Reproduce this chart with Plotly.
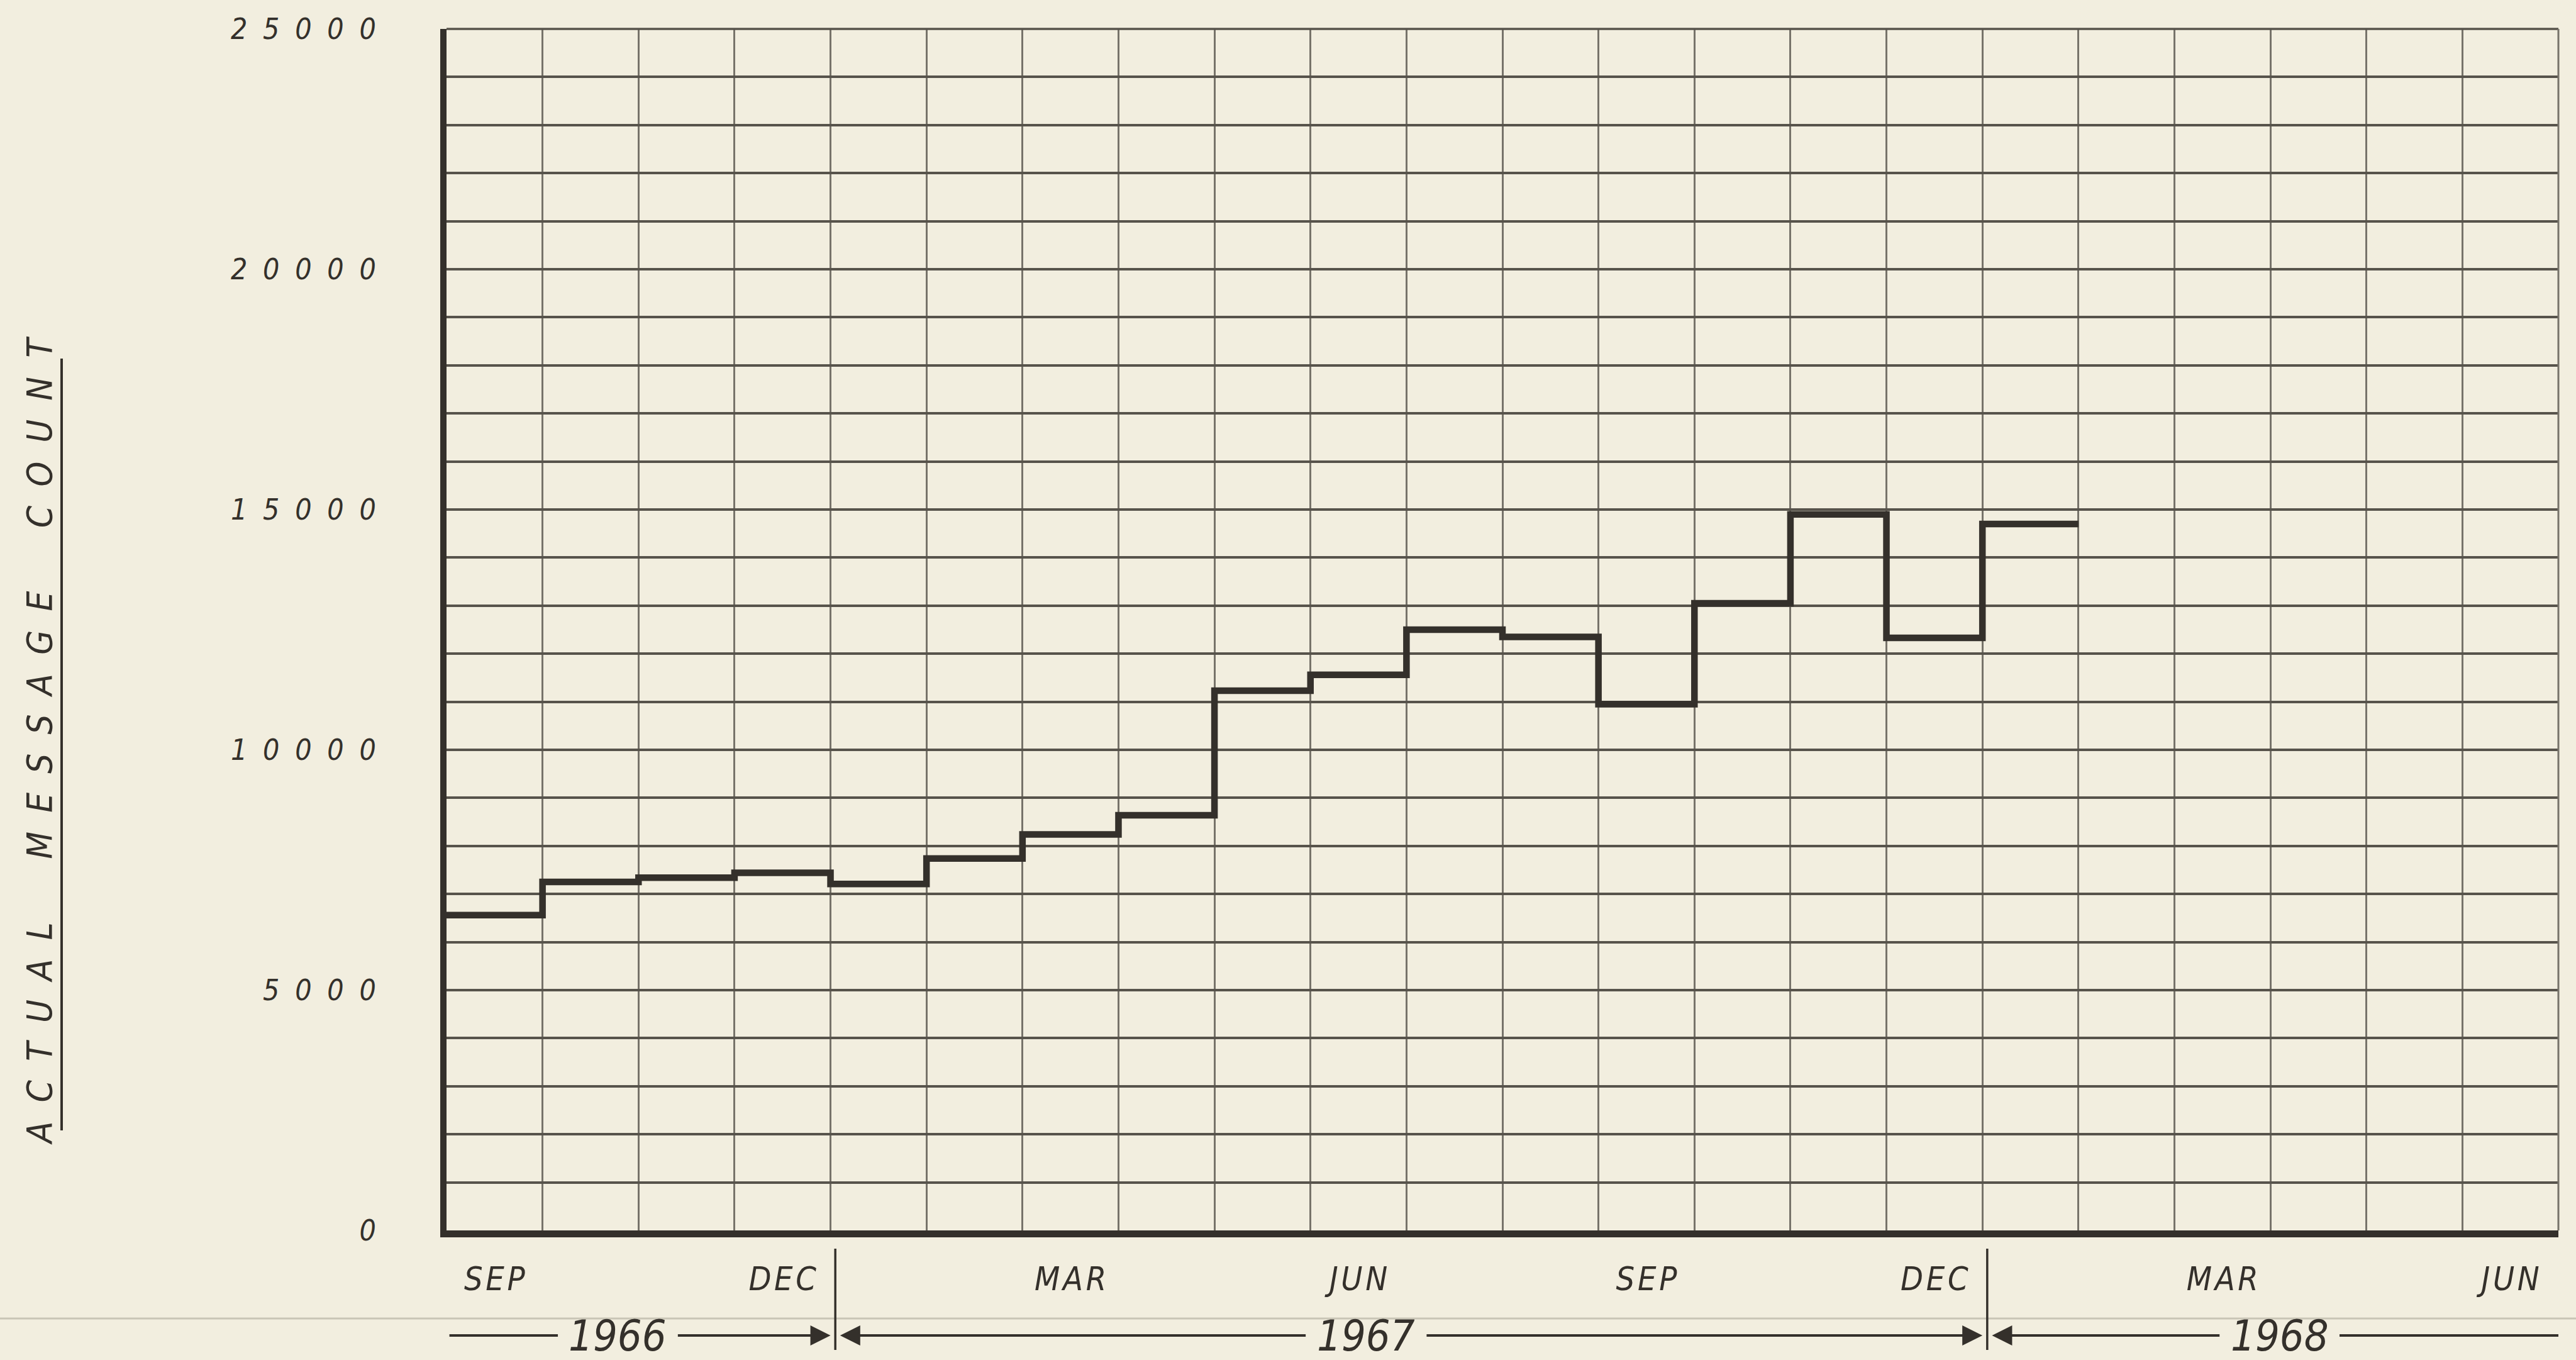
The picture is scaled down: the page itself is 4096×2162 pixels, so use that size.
import plotly.graph_objects as go

# ---------------- data ----------------
month_labels = ["SEP", "OCT", "NOV", "DEC",
                "JAN", "FEB", "MAR", "APR", "MAY", "JUN", "JUL", "AUG", "SEP", "OCT", "NOV", "DEC",
                "JAN", "FEB", "MAR", "APR", "MAY", "JUN"]
month_years = [1966] * 4 + [1967] * 12 + [1968] * 6
message_count = [6560, 7250, 7340, 7440,
                 7210, 7740, 8240, 8640, 11230, 11560, 12500, 12350, 10950, 13050, 14900, 12330,
                 14700]
labelled_months = ["SEP", "DEC", "MAR", "JUN"]
y_tick_values = [0, 5000, 10000, 15000, 20000, 25000]
y_tick_text = ["0", "5000", "10000", "15000", "20000", "25000"]
y_title_words = ["ACTUAL", "MESSAGE", "COUNT"]

# ---------------- style ----------------
PAPER = "#F2EEDF"
INK = "#34302b"
GRID_H = "#57534b"
GRID_V = "#77736a"
FONT = "DejaVu Sans Condensed, Liberation Sans Narrow, DejaVu Sans, sans-serif"
LSP = "\u2002\u200a"   # wide letter spacing for the hand lettering

def spaced(s, gap=LSP):
    return gap.join(list(s))

W, H = 4096, 2162
ML, MR, MT, MB = 710, 28, 46, 206
plot_w = W - ML - MR
plot_h = H - MT - MB

n_months = len(month_labels)
xs = list(range(len(message_count) + 1))
ys = message_count + [message_count[-1]]

fig = go.Figure()
fig.add_trace(go.Scatter(
    x=xs, y=ys, mode="lines", line=dict(shape="hv", color=INK, width=10.5),
    hoverinfo="skip", showlegend=False))

tick_idx = [i for i, m in enumerate(month_labels) if m in labelled_months]

fig.update_layout(
    width=W, height=H,
    paper_bgcolor=PAPER, plot_bgcolor=PAPER,
    margin=dict(l=ML, r=MR, t=MT, b=MB),
    showlegend=False,
    xaxis=dict(
        range=[0, n_months], tickmode="array",
        tickvals=[i + 0.5 for i in tick_idx],
        ticktext=[spaced(month_labels[i], "\u200a") for i in tick_idx],
        showgrid=False, zeroline=False,
        showline=True, linecolor=INK, linewidth=11,
        ticks="", ticklabelstandoff=22,
        tickfont=dict(family=FONT, size=52, color=INK, style="italic"),
        minor=dict(tickmode="linear", tick0=0, dtick=1, showgrid=True,
                   gridcolor=GRID_V, gridwidth=2.5, ticks=""),
    ),
    yaxis=dict(
        range=[0, 25000], tickmode="array",
        tickvals=y_tick_values, ticktext=[spaced(t) for t in y_tick_text],
        showgrid=True, gridcolor=GRID_H, gridwidth=3.5, zeroline=False,
        showline=True, linecolor=INK, linewidth=10,
        ticks="", ticklabelstandoff=93,
        tickfont=dict(family=FONT, size=46, color=INK, style="italic"),
        minor=dict(tickmode="linear", tick0=0, dtick=1000, showgrid=True,
                   gridcolor=GRID_H, gridwidth=3.5, ticks=""),
    ),
)

shapes = []
shapes.append(dict(type="line", xref="x domain", yref="y domain", x0=0, x1=1, y0=1, y1=1,
                   line=dict(color=GRID_H, width=3.5)))
shapes.append(dict(type="line", xref="x domain", yref="y domain", x0=1, x1=1, y0=0, y1=1,
                   line=dict(color=GRID_V, width=3)))

def py(px):
    return (H - MB - px) / plot_h

def pxx(px):
    return (px - ML) / plot_w

# faint fold line across the sheet
shapes.append(dict(type="line", xref="paper", yref="paper", x0=pxx(0), x1=pxx(W), y0=py(2096), y1=py(2096),
                   line=dict(color="#c9c5b6", width=3)))

# y title underline
shapes.append(dict(type="line", xref="paper", yref="paper", x0=pxx(98), x1=pxx(98),
                   y0=py(570), y1=py(1797), line=dict(color=INK, width=4)))

# year separators
year_list = sorted(set(month_years))
year_start = {y: month_years.index(y) for y in year_list}
year_end = {y: len(month_years) - month_years[::-1].index(y) for y in year_list}
for yr in year_list[1:]:
    sx = year_start[yr] + 0.05
    shapes.append(dict(type="line", xref="x", yref="paper", x0=sx, x1=sx,
                       y0=py(1985), y1=py(2146), line=dict(color=INK, width=3.5)))

year_row = py(2123)
year_text_x = {1966: 1.78, 1967: 9.58, 1968: 19.1}
half = 0.62
annotations = []
for yr in year_list:
    cx = year_text_x[yr]
    annotations.append(dict(x=cx, y=year_row, xref="x", yref="paper", text=str(yr),
                            showarrow=False, xanchor="center", yanchor="middle",
                            font=dict(family=FONT, size=68, color=INK, style="italic")))
    s, e = year_start[yr], year_end[yr]
    if s == 0:
        shapes.append(dict(type="line", xref="x", yref="paper", x0=s + 0.03, x1=cx - half,
                           y0=year_row, y1=year_row, line=dict(color=INK, width=4)))
    else:
        annotations.append(dict(x=s + 0.1, y=year_row, xref="x", yref="paper",
                                ax=cx - half, axref="x", ay=0, ayref="pixel", text="",
                                showarrow=True, arrowhead=2, arrowsize=1.6, arrowwidth=4,
                                arrowcolor=INK))
    if e == n_months:
        shapes.append(dict(type="line", xref="x", yref="paper", x0=cx + half, x1=e + 0.07,
                           y0=year_row, y1=year_row, line=dict(color=INK, width=4)))
    else:
        annotations.append(dict(x=e, y=year_row, xref="x", yref="paper",
                                ax=cx + half, axref="x", ay=0, ayref="pixel", text="",
                                showarrow=True, arrowhead=2, arrowsize=1.6, arrowwidth=4,
                                arrowcolor=INK))

# y axis title
y_title = ("\u2003\u2003").join(spaced(w, "\u2002\u200a") for w in y_title_words)
annotations.append(dict(x=pxx(62), y=py(1177), xref="paper", yref="paper", text=y_title,
                        textangle=-90, showarrow=False, xanchor="center", yanchor="middle",
                        font=dict(family=FONT, size=56, color=INK, style="italic")))

fig.update_layout(shapes=shapes, annotations=annotations)
fig.write_html("out.html", config={"displayModeBar": False},
               post_script="document.body.style.margin='0';document.body.style.background='%s';" % PAPER)
